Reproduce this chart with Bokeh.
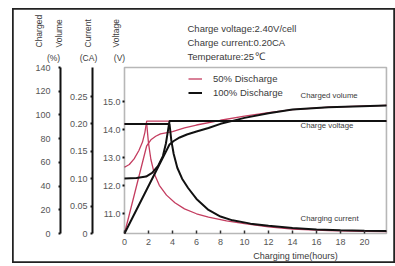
from math import pi
from bokeh.plotting import figure
from bokeh.models import (Range1d, LinearAxis, FixedTicker, Label, Legend, LegendItem,
                          CustomJSTickFormatter, PrintfTickFormatter, BoxAnnotation)
from bokeh.embed import file_html
from bokeh.resources import INLINE

# ---------------- data ----------------
hour_ticks = [0, 2, 4, 6, 8, 10, 12, 14, 16, 18, 20]
volume_ticks = [0, 20, 40, 60, 80, 100, 120, 140]
current_ticks = [0, 0.05, 0.10, 0.15, 0.20, 0.25]
voltage_ticks = [11.0, 12.0, 13.0, 14.0, 15.0]

# 50% discharge (red)
t_volt_50 = [0, 0.4, 0.8, 1.2, 1.5, 1.7, 1.85, 21.83]
volt_50 = [12.65, 12.75, 12.95, 13.25, 13.55, 13.9, 14.3, 14.3]
t_cur_50 = [0, 1.85, 2.0, 2.2, 2.5, 2.9, 3.5, 4.2, 5, 6, 7, 8.5, 10, 12, 14, 17, 20, 21.83]
cur_50 = [0.2, 0.2, 0.165, 0.135, 0.108, 0.088, 0.07, 0.056, 0.045, 0.036, 0.03, 0.023,
          0.018, 0.012, 0.008, 0.0055, 0.004, 0.0035]
t_vol_50 = [0, 1.85, 2.2, 2.6, 3, 4, 5, 6, 8, 10, 12, 14, 17, 21.83]
vol_50 = [0, 74, 79, 82, 84, 86, 89, 91.5, 95.5, 99, 102, 104.5, 106.5, 108]

# 100% discharge (black)
t_volt_100 = [0, 1, 1.8, 2.3, 2.8, 3.2, 3.45, 3.6, 3.75, 21.83]
volt_100 = [12.25, 12.27, 12.32, 12.45, 12.7, 13.05, 13.5, 13.9, 14.3, 14.3]
t_cur_100 = [0, 3.75, 3.9, 4.1, 4.4, 4.8, 5.3, 6, 7, 8, 9, 10.5, 12, 14, 16, 18, 20, 21.83]
cur_100 = [0.2, 0.2, 0.17, 0.145, 0.12, 0.1, 0.083, 0.063, 0.043, 0.031, 0.024, 0.018,
           0.014, 0.01, 0.0075, 0.006, 0.005, 0.0045]
t_vol_100 = [0, 3.75, 4.1, 4.6, 5.2, 6, 7, 8, 9, 10, 12, 14, 17, 21.83]
vol_100 = [0, 75, 78, 81, 83.5, 86, 89, 92.5, 95, 97.5, 101.5, 104.5, 106.5, 108]

RED = "#c43d60"
INK = "#111111"
TXT = "#3a3a3a"
FONT = "Liberation Sans"

# ---------------- page geometry (px) ----------------
CANVAS_L, CANVAS_T, W, H = 12, 8, 383, 255
X0_PX, PX_PER_HOUR = 124, 12.0          # t = 0 position, scale
Y0_PX = 233                              # baseline of every left axis
VOL_PX = 166 / 140.0                     # px per %
CUR_PX = 548.0                           # px per CA
VOLT_PX, VOLT11_PX = 28.0, 213           # px per V, position of 11.0 V
T_END = 21.83


def tx(px):
    return (px - X0_PX) / PX_PER_HOUR


def ty(py):
    return (Y0_PX - py) / VOL_PX


top_px, bot_px = CANVAS_T, CANVAS_T + H
p = figure(width=W, height=H, output_backend="svg", toolbar_location=None,
           x_range=Range1d(tx(CANVAS_L), tx(CANVAS_L + W)),
           y_range=Range1d(ty(bot_px), ty(top_px)),
           x_axis_location=None, y_axis_location=None,
           min_border_left=0, min_border_right=0, min_border_top=0, min_border_bottom=0)
p.margin = (CANVAS_T, 0, 0, CANVAS_L)
p.xgrid.visible = False
p.ygrid.visible = False
p.outline_line_color = "#222222"
p.outline_line_width = 2.5

p.extra_y_ranges = {
    "volt": Range1d(11 + (VOLT11_PX - bot_px) / VOLT_PX, 11 + (VOLT11_PX - top_px) / VOLT_PX),
    "cur": Range1d((Y0_PX - bot_px) / CUR_PX, (Y0_PX - top_px) / CUR_PX),
}
volt_lo = 11 + (VOLT11_PX - Y0_PX) / VOLT_PX
volt_hi = 11 + (VOLT11_PX - 67) / VOLT_PX
cur_hi = (Y0_PX - 67) / CUR_PX

# inner chart box
p.add_layout(BoxAnnotation(left=0, right=T_END, bottom=0, top=140, fill_alpha=0,
                           line_color=INK, line_width=1.6))


def style_axis(ax, tick_out=2, standoff=2):
    ax.axis_line_width = 2
    ax.axis_line_color = INK
    ax.major_tick_line_width = 2
    ax.major_tick_line_color = INK
    ax.major_tick_in = 0
    ax.major_tick_out = tick_out
    ax.minor_tick_line_color = None
    ax.major_label_text_font = FONT
    ax.major_label_text_font_size = "9px"
    ax.major_label_text_color = "#555555"
    ax.major_label_standoff = standoff


ax_v = LinearAxis(y_range_name="volt", ticker=FixedTicker(ticks=voltage_ticks),
                  formatter=PrintfTickFormatter(format="%.1f"),
                  fixed_location=0, bounds=(volt_lo, volt_hi))
style_axis(ax_v)
ax_v.axis_line_color = None
p.add_layout(ax_v, "left")

ax_c = LinearAxis(y_range_name="cur", ticker=FixedTicker(ticks=current_ticks),
                  formatter=CustomJSTickFormatter(code="return tick == 0 ? '0' : tick.toFixed(2);"),
                  fixed_location=tx(92), bounds=(0, cur_hi))
style_axis(ax_c, standoff=3)
p.add_layout(ax_c, "left")

ax_p = LinearAxis(ticker=FixedTicker(ticks=volume_ticks), fixed_location=tx(60), bounds=(0, 140))
style_axis(ax_p, standoff=8)
p.add_layout(ax_p, "left")

xa = LinearAxis(ticker=FixedTicker(ticks=hour_ticks), fixed_location=0, bounds=(0, T_END))
xa.axis_line_color = None
xa.major_tick_in = 3
xa.major_tick_out = 0
xa.major_tick_line_width = 1.5
xa.major_tick_line_color = "#333333"
xa.minor_tick_line_color = None
xa.major_label_text_font = FONT
xa.major_label_text_font_size = "9px"
xa.major_label_text_color = "#555555"
xa.major_label_standoff = 5
p.add_layout(xa, "below")

# ---------------- curves ----------------
r_v50 = p.line(t_volt_50, volt_50, y_range_name="volt", color=RED, line_width=1.3)
p.line(t_cur_50, cur_50, y_range_name="cur", color=RED, line_width=1.3)
p.line(t_vol_50, vol_50, color=RED, line_width=1.3)

r_v100 = p.line(t_volt_100, volt_100, y_range_name="volt", color=INK, line_width=2)
p.line(t_cur_100, cur_100, y_range_name="cur", color=INK, line_width=2)
p.line(t_vol_100, vol_100, color=INK, line_width=2)

legend = Legend(items=[LegendItem(label="50% Discharge", renderers=[r_v50]),
                       LegendItem(label="100% Discharge", renderers=[r_v100])],
                location=(188 - CANVAS_L, bot_px - 97.5), padding=0, margin=0, spacing=3,
                glyph_width=14, glyph_height=11, label_height=11, label_standoff=11,
                label_text_font=FONT, label_text_font_size="9.5px", label_text_color=TXT,
                background_fill_alpha=0, border_line_alpha=0)
p.add_layout(legend)


# ---------------- texts ----------------
def add_text(text, px, py, size="8.5px", align="left", angle=0, color=TXT):
    p.add_layout(Label(x=tx(px), y=ty(py), text=text, text_font=FONT, text_font_size=size,
                       text_color=color, text_align=align, text_baseline="middle", angle=angle))


add_text("Charge voltage:2.40V/cell", 187, 28, size="9.5px")
add_text("Charge current:0.20CA", 187, 42, size="9.5px")
add_text("Temperature:25", 187, 56, size="9.5px")
add_text("℃", 254, 55, size="10.5px")

add_text("Charged", 38, 47, angle=pi / 2)
add_text("Volume", 58, 47, angle=pi / 2)
add_text("Current", 87, 47, angle=pi / 2)
add_text("Voltage", 115, 47, angle=pi / 2)
add_text("(%)", 53, 57, align="center")
add_text("(CA)", 88, 57, align="center")
add_text("(V)", 119, 57, align="center")

add_text("Charged volume", 300, 95, size="7.8px")
add_text("Charge voltage", 300, 125, size="7.8px")
add_text("Charging current", 300, 218, size="7.8px")
add_text("Charging time(hours)", 295, 255, size="9px", align="center")

open("out.html", "w").write(file_html(p, INLINE))
